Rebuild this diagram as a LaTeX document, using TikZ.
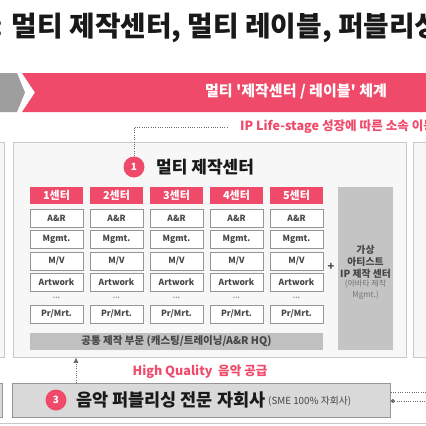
\documentclass[tikz,border=0pt]{standalone}
\usepackage{fontspec}
\setmainfont{Noto Sans CJK KR}
\usetikzlibrary{arrows.meta}
\definecolor{brand}{RGB}{239,74,106}
\definecolor{chev}{RGB}{158,158,158}
\definecolor{framefill}{RGB}{247,247,247}
\definecolor{frameline}{RGB}{200,200,200}
\definecolor{cellline}{RGB}{150,150,150}
\definecolor{celltext}{RGB}{70,70,70}
\definecolor{barfill}{RGB}{192,192,192}
\definecolor{vfill}{RGB}{196,196,196}
\definecolor{pubfill}{RGB}{217,217,217}
\definecolor{dotcol}{RGB}{110,110,110}
\tikzset{
  fs/.style={font=\fontsize{#1}{#1}\selectfont\bfseries},
  frame/.style={fill=framefill, draw=frameline, line width=0.8pt},
  head/.style={fill=brand, draw=none, minimum width=53pt, minimum height=17pt, inner sep=0pt, text=white, fs=11},
  cell/.style={fill=white, draw=cellline, line width=0.8pt, minimum width=53pt, minimum height=18pt, inner sep=0pt, text=celltext, fs=8.5},
  dotsrow/.style={inner sep=0pt, text=cellline, fs=7},
  badge/.style={circle, fill=brand, text=white, minimum size=21pt, inner sep=0pt, fs=10},
  dotline/.style={draw=dotcol, line width=1pt, dash pattern=on 1pt off 1.3pt},
}
\begin{document}
\begin{tikzpicture}[x=1pt,y=-1pt]
\useasboundingbox (0,0) rectangle (426,426);
\clip (0,0) rectangle (426,426);
\fill[white] (0,0) rectangle (426,426);
% title
\node[anchor=west, inner sep=0pt, fs=27.8, text=black!90] (title) at (-6.5,28) {: 멀티 제작센터, 멀티 레이블, 퍼블리싱};
% banner
\fill[chev] (0,73) -- (17,73) -- (25,92.5) -- (17,112) -- (0,112) -- cycle;
\fill[brand] (22,73) -- (430,73) -- (430,112) -- (22,112) -- (35,92.5) -- cycle;
\node[inner sep=0pt, text=white, fs=15] (banner) at (296,92) {멀티 \textquotesingle 제작센터 / 레이블\textquotesingle\ 체계};
% side frames
\draw[frame] (-20,142) rectangle (4,357);
\draw[frame] (413,142) rectangle (440,357);
% main frame
\node[frame, anchor=north west, minimum width=393pt, minimum height=215pt, inner sep=0pt] (f1) at (13,142) {};
% badge 1 and title
\node[badge] (c1) at (134,167) {1};
\node[anchor=west, inner sep=0pt, fs=17, text=black!90] (t1) at (156,167) {멀티 제작센터};
% IP life-stage note
\coordinate (ipend) at (228,127);
\node[anchor=west, inner sep=0pt, text=brand, fs=12.6] (ipt) at (240,127) {IP Life-stage 성장에 따른 소속 이동};
\draw[dotline] (c1.north) |- (ipend);
% columns
\foreach \i in {1,...,5}{
  \pgfmathsetmacro{\cx}{56.5+60*(\i-1)}
  \node[head] (h\i) at (\cx,195.5) {\i 센터};
  \node[cell] (a\i) at (\cx,218) {A\&R};
  \node[cell] (m\i) at (\cx,239.5) {Mgmt.};
  \node[cell] (v\i) at (\cx,261) {M/V};
  \node[cell] (w\i) at (\cx,282.5) {Artwork};
  \node[dotsrow] (d\i) at (\cx,298) {...};
  \node[cell] (p\i) at (\cx,314) {Pr/Mrt.};
}
% common bar
\node[fill=barfill, minimum width=293pt, minimum height=17pt, inner sep=0pt, text=celltext, fs=10.5] (bar) at (176.5,341.5) {공통 제작 부문 (캐스팅/트레이닝/A\&R HQ)};
% plus and virtual artist box
\node[inner sep=0pt, text=celltext, fs=11] (plus) at (331,267) {+};
\node[fill=vfill, minimum width=55pt, minimum height=163pt, inner sep=0pt] (vbox) at (365.5,268.5) {};
\node[align=center, inner sep=0pt, text=celltext, font=\fontsize{9.8}{12}\selectfont\bfseries] (vtxt) at (365.5,261.5) {가상\\아티스트\\IP 제작 센터};
\node[align=center, inner sep=0pt, text=celltext!75, font=\fontsize{8}{11}\selectfont] (vsub) at (365.5,289.5) {(아바타 제작\\Mgmt.)};
% publishing box
\draw[fill=pubfill, draw=cellline, line width=0.8pt] (-20,383) rectangle (2,417);
\node[fill=pubfill, draw=cellline, line width=0.8pt, anchor=north west, minimum width=378pt, minimum height=34pt, inner sep=0pt] (b3) at (12,383) {};
\node[badge] (c3) at (56,400) {3};
\node[anchor=west, inner sep=0pt, fs=17.5, text=black!90] (t3) at (76,400) {음악 퍼블리싱 전문 자회사};
\node[anchor=west, inner sep=0pt, text=celltext, font=\fontsize{9.8}{9.8}\selectfont] (t3s) at (268,401) {(SME 100\% 자회사)};
% high quality arrow
\coordinate (ax) at (76,0);
\draw[dotline, -{Triangle[length=5pt,width=4.5pt]}] (b3.north -| ax) -- (f1.south -| ax);
\node[inner sep=0pt, text=brand, fs=12.6] (hq) at (200,372) {High Quality\ \ 음악 공급};
% right dotted lines
\coordinate (r1) at (430,392);
\coordinate (r2) at (430,401);
\draw[dotline] (b3.east |- r1) -- (r1);
\draw[dotline, {Circle[length=4pt,width=4pt]}-] (b3.east |- r2) -- (r2);
% bottom edge
\draw[frameline, line width=0.8pt] (0,423.5) -- (426,423.5);
\end{tikzpicture}
\end{document}
